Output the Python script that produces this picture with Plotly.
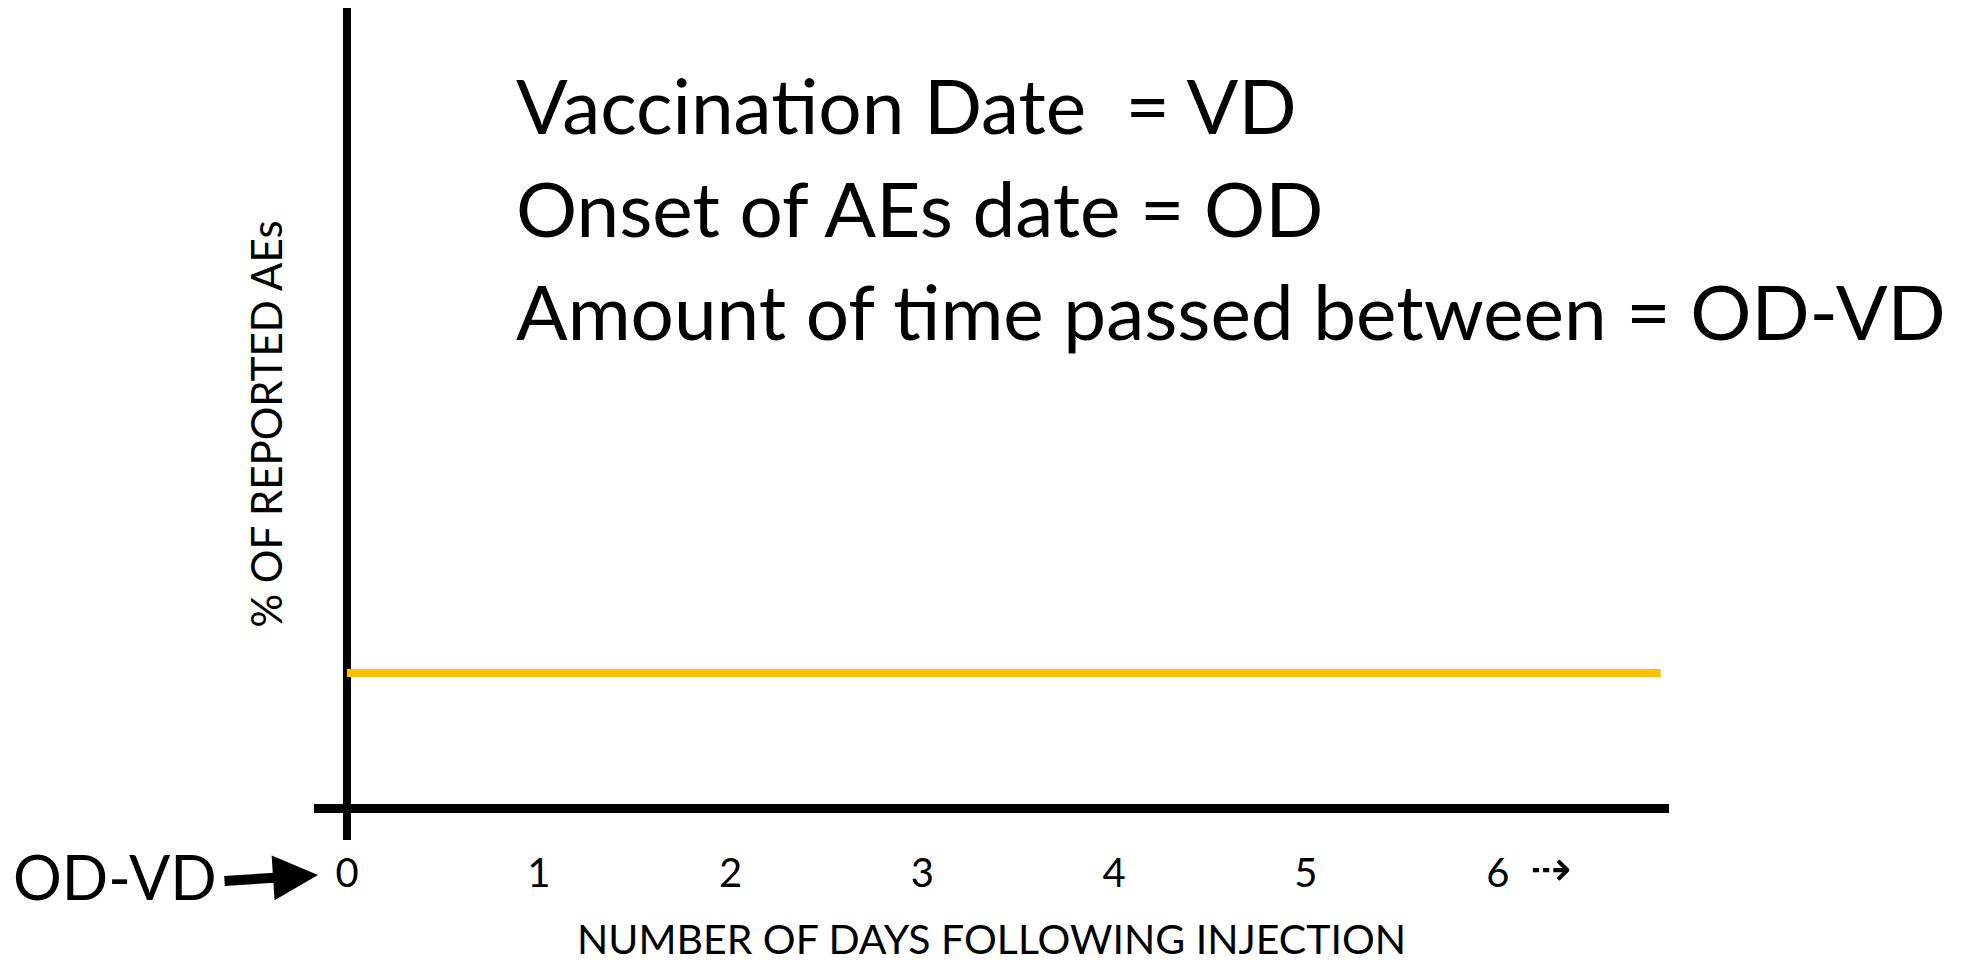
import plotly.graph_objects as go

# ---- data ----
day_ticks = [0, 1, 2, 3, 4, 5, 6]
day_labels = ["0", "1", "2", "3", "4", "5", "6"]
line_days = [0, 6.85]
line_pct = [1, 1]
x_title = "NUMBER OF DAYS FOLLOWING INJECTION"
y_title = "% OF REPORTED AEs"
legend_lines = [
    "Vaccination Date\u00a0 = VD",
    "Onset of AEs date = OD",
    "Amount of time passed between = OD-VD",
]
odvd_label = "OD-VD"

FONT = "Lato"
W, H = 1974, 963
ML, MR, MT, MB = 314, 305, 8, 123

fig = go.Figure()
fig.add_trace(go.Scatter(
    x=line_days, y=line_pct, mode="lines",
    line=dict(color="#FFC000", width=8),
    hoverinfo="skip", showlegend=False,
))

fig.update_layout(
    width=W, height=H,
    margin=dict(l=ML, r=MR, t=MT, b=MB, pad=0, autoexpand=False),
    paper_bgcolor="white", plot_bgcolor="white",
    showlegend=False,
    font=dict(family=FONT, color="black"),
    xaxis=dict(
        range=[-0.172, 6.893], showgrid=False, showline=False,
        zeroline=True, zerolinecolor="black", zerolinewidth=8,
        tickmode="array", tickvals=day_ticks, ticktext=day_labels,
        ticks="", tickfont=dict(family=FONT, size=40, color="black"),
        ticklabelstandoff=6, automargin=False,
        title=dict(text=x_title, font=dict(family=FONT, size=41, color="black"), standoff=37),
        fixedrange=True,
    ),
    yaxis=dict(
        range=[-0.237, 5.926], showgrid=False, showline=False,
        zeroline=True, zerolinecolor="black", zerolinewidth=9,
        showticklabels=False, ticks="", automargin=False,
        title=dict(text=y_title, font=dict(family=FONT, size=42, color="black"), standoff=17),
        fixedrange=True,
    ),
)

def px_to_paper(px, py):
    return (px - ML) / (W - ML - MR), (H - MB - py) / (H - MT - MB)

# big explanatory text
for i, line in enumerate(legend_lines):
    x, y = px_to_paper(514, 104 + i * 103)
    fig.add_annotation(text=line, xref="paper", yref="paper", x=x, y=y,
                       xanchor="left", yanchor="middle", showarrow=False,
                       font=dict(family=FONT, size=76.5, color="black"))

# OD-VD label
x, y = px_to_paper(11, 877)
fig.add_annotation(text=odvd_label, xref="paper", yref="paper", x=x, y=y,
                   xanchor="left", yanchor="middle", showarrow=False,
                   font=dict(family=FONT, size=61, color="black"))

# arrow pointing to 0
x, y = px_to_paper(318, 875)
fig.add_annotation(text="", xref="paper", yref="paper", x=x, y=y,
                   ax=-95, ay=6, showarrow=True, arrowhead=2,
                   arrowwidth=10, arrowsize=0.9, arrowcolor="black", standoff=0)

# dotted arrow after 6
x, y = px_to_paper(1551, 869)
fig.add_annotation(text="\u21e2", xref="paper", yref="paper", x=x, y=y,
                   xanchor="center", yanchor="middle", showarrow=False,
                   font=dict(family="DejaVu Sans", size=50, color="black"))

fig.write_html("out.html", config={"displayModeBar": False},
               post_script="document.body.style.margin='0';")
